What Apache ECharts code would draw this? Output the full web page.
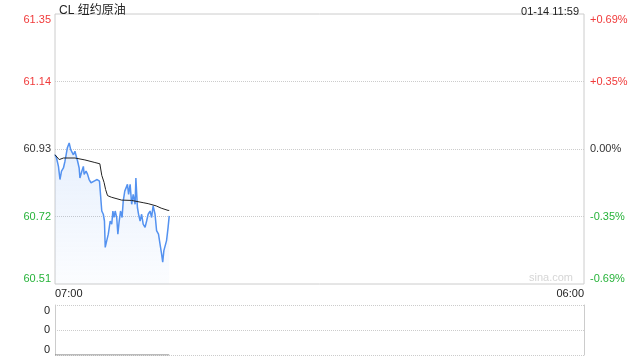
<!DOCTYPE html>
<html>
<head>
<meta charset="utf-8">
<script src="https://cdn.jsdelivr.net/npm/echarts@6/dist/echarts.min.js"></script>
<style>
html,body{margin:0;padding:0;background:#fff;}
#c{width:640px;height:360px;}
</style>
</head>
<body>
<div id="c"></div>
<script>
// ---- data ----
const titleText = 'CL 纽约原油';
const timeText = '01-14 11:59';
const xLabels = ['07:00', '06:00'];          // session start / end
const sessionMinutes = [0, 1380];
const priceTicks = [60.51, 60.72, 60.93, 61.14, 61.35];
const priceTickLabels = ['60.51', '60.72', '60.93', '61.14', '61.35'];
const pctTickLabels = ['-0.69%', '-0.35%', '0.00%', '+0.35%', '+0.69%'];
const tickColors = ['#27b33a', '#27b33a', '#333333', '#f03a3a', '#f03a3a'];

const priceMinutes = [0,4,9,13,17,22,26,29,32,37,41,45,48,52,57,59,63,65,70,74,76,81,85,89,94,98,102,107,110,116,
  119,122,126,129,131,135,139,144,148,151,154,157,161,164,167,171,175,178,182,185,189,192,196,200,204,209,211,215,218,222,
  226,230,235,239,243,248,252,256,261,265,270,274,278,281,284,288,291,295,298];
const prices = [60.912,60.902,60.876,60.835,60.861,60.871,60.892,60.912,60.933,60.949,60.928,60.933,60.912,60.923,60.928,60.892,60.871,60.840,60.861,60.876,
  60.851,60.861,60.851,60.835,60.825,60.820,60.830,60.825,60.835,60.830,
  60.784,60.737,60.727,60.706,60.624,60.645,60.665,60.706,60.696,60.737,60.717,60.737,60.717,60.665,60.701,60.737,60.717,60.768,60.799,60.794,
  60.820,60.789,60.820,60.758,60.789,60.758,60.840,60.748,60.727,60.706,
  60.727,60.696,60.686,60.706,60.727,60.737,60.717,60.753,60.727,60.676,60.665,60.634,60.604,60.578,60.614,60.609,60.645,60.686,60.722];

const avgMinutes = [0,11,22,52,78,104,117,122,128,132,137,147,174,200,230,243,264,277,295,298];
const avgPrices = [60.912,60.897,60.902,60.902,60.896,60.888,60.884,60.848,60.826,60.804,60.785,60.780,60.771,60.770,60.763,60.760,60.753,60.746,60.739,60.739];

const volumeMinutes = [0, 298];
const volumes = [0, 0];
const volTickLabels = ['0', '0', '0'];

// ---- chart ----
const FONT = 'Arial, "Liberation Sans", "Noto Sans CJK SC", sans-serif';
function zip(a, b) { return a.map((v, i) => [v, b[i]]); }
function tickIndex(v) {
  let best = 0;
  for (let i = 0; i < priceTicks.length; i++) if (Math.abs(priceTicks[i] - v) < Math.abs(priceTicks[best] - v)) best = i;
  return best;
}
const rich = {};
tickColors.forEach((c, i) => rich['c' + i] = { color: c, fontSize: 11, fontFamily: FONT });

const chart = echarts.init(document.getElementById('c'), null, { renderer: 'canvas' });
chart.setOption({
  animation: false,
  textStyle: { fontFamily: FONT },
  title: [
    { text: titleText, left: 54, top: 0, textStyle: { fontSize: 12, fontWeight: 'normal', color: '#222', fontFamily: FONT } },
    { text: timeText, right: 56, top: 1, textStyle: { fontSize: 11, fontWeight: 'normal', color: '#222', fontFamily: FONT } }
  ],
  graphic: [
    { type: 'text', right: 67, top: 272, style: { text: 'sina.com', fill: '#d6d6d6', fontSize: 11, fontFamily: FONT } }
  ],
  grid: [
    { left: 55, right: 56, top: 14, height: 270, show: true, borderColor: '#cccccc', borderWidth: 1 },
    { left: 55, right: 56, top: 305, height: 50, show: false }
  ],
  xAxis: [
    { type: 'value', gridIndex: 0, min: sessionMinutes[0], max: sessionMinutes[1], interval: sessionMinutes[1],
      axisLine: { show: false }, axisTick: { show: false }, splitLine: { show: false },
      axisLabel: { show: true, margin: 4, color: '#222', fontSize: 11, alignMinLabel: 'left', alignMaxLabel: 'right',
        formatter: v => v === sessionMinutes[0] ? xLabels[0] : xLabels[1] } },
    { type: 'value', gridIndex: 1, min: sessionMinutes[0], max: sessionMinutes[1],
      axisLine: { show: false }, axisTick: { show: false }, splitLine: { show: false }, axisLabel: { show: false } }
  ],
  yAxis: [
    { type: 'value', gridIndex: 0, position: 'left', min: priceTicks[0], max: priceTicks[4], interval: 0.21,
      axisLine: { show: false }, axisTick: { show: false },
      splitLine: { show: true, showMinLine: false, showMaxLine: false, lineStyle: { color: '#cccccc', type: [1, 1] } },
      axisLabel: { margin: 4, fontSize: 11, verticalAlignMaxLabel: 'top', verticalAlignMinLabel: 'bottom',
        formatter: v => { const i = tickIndex(v); return '{c' + i + '|' + priceTickLabels[i] + '}'; }, rich: rich } },
    { type: 'value', gridIndex: 0, position: 'right', min: priceTicks[0], max: priceTicks[4], interval: 0.21,
      axisLine: { show: false }, axisTick: { show: false }, splitLine: { show: false },
      axisLabel: { margin: 6, fontSize: 11, verticalAlignMaxLabel: 'top', verticalAlignMinLabel: 'bottom',
        formatter: v => { const i = tickIndex(v); return '{c' + i + '|' + pctTickLabels[i] + '}'; }, rich: rich } },
    { type: 'value', gridIndex: 1, position: 'left', min: 0, max: 2, interval: 1,
      axisLine: { show: true, lineStyle: { color: '#cccccc' } }, axisTick: { show: false },
      splitLine: { show: true, lineStyle: { color: '#cccccc', type: [1, 1] } },
      axisLabel: { margin: 5, color: '#222', fontSize: 11, verticalAlignMaxLabel: 'top', verticalAlignMinLabel: 'bottom',
        formatter: (v, i) => volTickLabels[i] } },
    { type: 'value', gridIndex: 1, position: 'right', min: 0, max: 2, interval: 1,
      axisLine: { show: true, lineStyle: { color: '#cccccc' } }, axisTick: { show: false },
      splitLine: { show: false }, axisLabel: { show: false } }
  ],
  series: [
    { type: 'line', xAxisIndex: 0, yAxisIndex: 0, data: zip(priceMinutes, prices), symbol: 'none',
      lineStyle: { color: '#5492f0', width: 1.5 },
      areaStyle: { color: new echarts.graphic.LinearGradient(0, 0, 0, 1, [
        { offset: 0, color: 'rgba(84,146,240,0.2)' }, { offset: 1, color: 'rgba(84,146,240,0.03)' }]) } },
    { type: 'line', xAxisIndex: 0, yAxisIndex: 0, data: zip(avgMinutes, avgPrices), symbol: 'none',
      lineStyle: { color: '#222222', width: 1 } },
    { type: 'line', xAxisIndex: 1, yAxisIndex: 2, data: zip(volumeMinutes, volumes), symbol: 'none',
      lineStyle: { color: '#777777', width: 1 } }
  ]
});
</script>
</body>
</html>
